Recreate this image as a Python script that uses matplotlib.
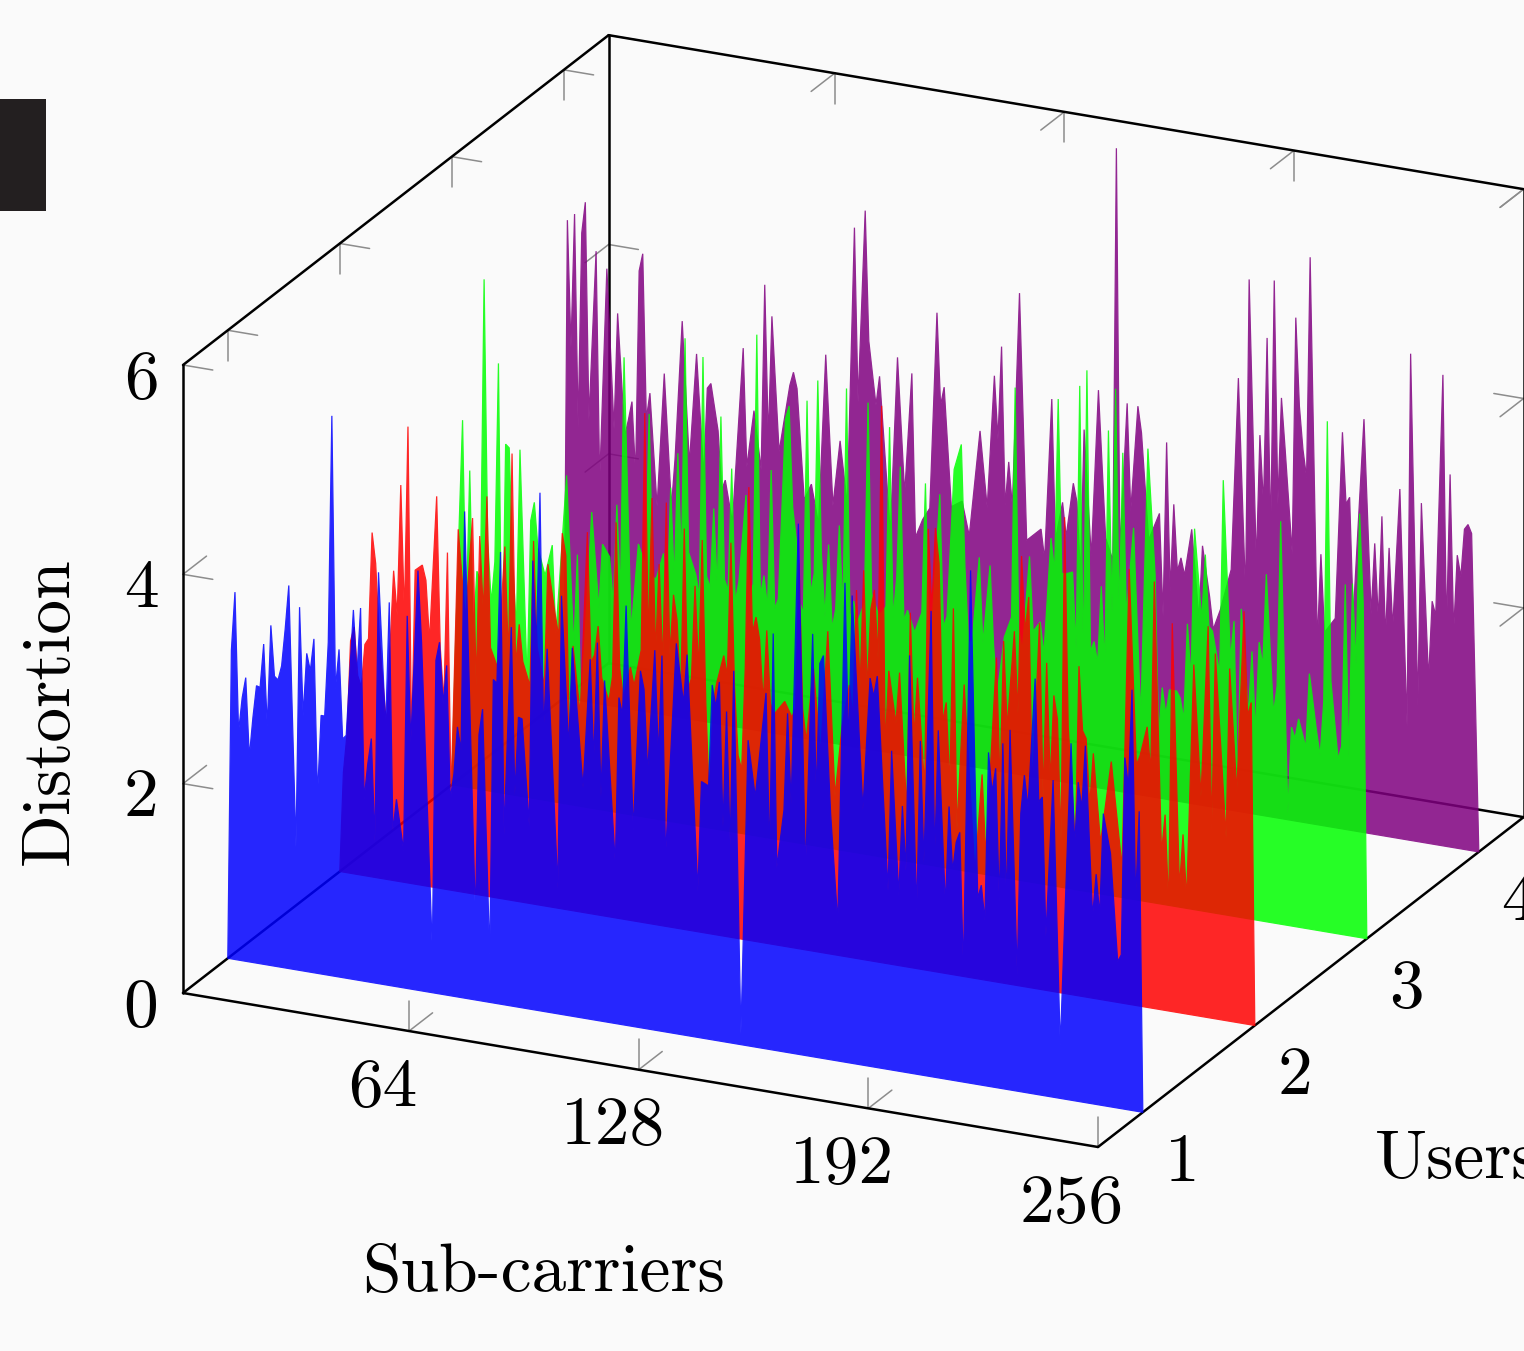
import matplotlib
matplotlib.use("Agg")
import matplotlib.pyplot as plt
from matplotlib.transforms import Affine2D
from matplotlib.patches import Rectangle

# (sub-carrier, distortion) vertices
blue_points = [(2,2.95),(3,3.51),(4,2.18),(5,2.51),(6,2.71),(7,1.96),(8,2.34),(9,2.65),(10,2.64),(11,3.06),(12,2.28),(13,3.25),(14,2.77),(15,2.74),(16,2.88),(17,3.24),(18,3.66),(20,1.17),(21,3.47),(22,2.44),(23,3.04),(24,2.88),(25,3.19),(26,1.70),(27,2.47),(28,2.47),(29,3.18),(30,5.35),(31,2.75),(32,3.13),(33,2.28),(34,2.32),(36,3.53),(37,2.92),(38,3.56),(39,1.74),(40,2.08),(41,2.33),(42,1.35),(43,3.93),(45,2.45),(46,3.66),(47,1.48),(48,1.79),(50,1.31),(51,3.56),(52,2.36),(54,4.01),(55,3.33),(58,0.40),(59,3.18),(60,3.36),(61,2.78),(62,3.15),(63,1.88),(64,2.12),(65,2.58),(66,2.36),(67,4.65),(70,0.80),(71,2.54),(72,2.79),(74,0.45),(75,3.09),(76,3.06),(77,4.32),(78,1.63),(80,3.62),(81,2.02),(82,2.77),(83,2.76),(85,1.75),(86,4.29),(87,3.48),(88,4.95),(89,2.66),(90,3.47),(93,1.20),(94,4.00),(96,2.56),(97,3.52),(100,2.20),(102,3.44),(103,2.48),(104,3.61),(105,2.14),(106,3.26),(109,1.52),(110,3.12),(111,2.96),(112,4.01),(114,1.88),(116,3.41),(117,3.24),(118,2.45),(120,3.63),(121,2.62),(122,3.59),(123,1.68),(126,3.73),(128,3.17),(129,3.64),(132,1.40),(133,2.45),(135,2.42),(136,3.39),(137,3.19),(138,3.43),(139,2.05),(140,3.16),(141,1.89),(142,3.56),(144,0.10),(146,2.92),(148,2.39),(151,3.40),(152,1.86),(153,3.98),(154,1.75),(156,2.31),(157,3.24),(158,2.38),(160,5.07),(162,1.76),(164,4.04),(165,2.49),(166,3.77),(167,3.85),(169,2.35),(171,1.32),(173,4.58),(174,3.01),(175,4.47),(178,2.44),(180,3.71),(181,3.54),(182,3.74),(185,1.71),(186,3.05),(188,1.68),(189,2.54),(190,1.93),(191,3.99),(193,1.56),(194,3.19),(195,2.03),(197,4.45),(198,2.10),(199,3.32),(201,1.66),(202,2.61),(203,2.00),(204,2.28),(205,2.38),(206,1.07),(208,4.90),(210,1.78),(211,1.91),(212,1.58),(213,3.19),(214,2.82),(215,3.05),(216,1.78),(217,3.30),(218,1.78),(219,3.44),(221,1.12),(222,2.66),(223,3.03),(224,2.73),(226,3.97),(227,2.80),(228,2.85),(229,1.53),(231,3.03),(233,0.50),(236,3.41),(237,2.44),(238,3.05),(239,2.81),(240,3.41),(242,1.79),(243,2.20),(244,1.82),(245,2.79),(247,2.42),(249,1.40),(250,1.47),(251,3.36),(252,3.09),(253,4.02),(254,2.02),(255,2.87)]

red_points = [(2,0.95),(3,1.32),(4,2.22),(5,2.36),(6,1.9),(7,1.8),(8,2.21),(9,2.27),(10,3.29),(11,3.00),(12,2.3),(14,1.48),(16,2.96),(17,2.54),(18,3.79),(19,2.55),(20,4.36),(21,1.37),(22,3.00),(24,3.06),(25,2.92),(26,2.35),(28,3.74),(29,2.30),(30,1.79),(31,3.22),(32,0.89),(34,3.46),(36,2.61),(38,3.59),(39,2.0),(40,3.43),(41,2.71),(42,3.82),(43,2.38),(45,2.2),(47,3.37),(48,2.3),(49,4.27),(50,2.25),(51,2.65),(52,2.3),(54,2.08),(55,3.47),(56,2.46),(58,2.1),(59,3.27),(61,2.81),(62,2.60),(63,3.59),(64,3.38),(65,1.59),(66,2.53),(68,1.89),(70,3.64),(71,2.4),(72,2.48),(73,2.76),(74,2.27),(76,2.06),(77,2.3),(78,3.78),(79,2.4),(80,2.12),(82,2.42),(83,2.25),(85,2.6),(86,4.87),(87,2.7),(88,4.07),(89,2.6),(90,3.45),(91,2.5),(92,4.05),(93,2.6),(94,3.18),(95,2.94),(96,2.21),(97,3.83),(98,2.3),(99,2.41),(100,3.30),(101,2.5),(102,3.75),(103,2.2),(104,1.27),(105,2.2),(106,2.4),(108,2.68),(109,2.5),(110,3.77),(111,2.4),(112,1.75),(113,1.62),(114,2.6),(115,4.33),(116,2.95),(117,3.10),(118,2.89),(119,2.3),(120,2.99),(121,2.3),(122,2.2),(125,2.34),(127,2.2),(128,2.3),(129,3.68),(130,2.3),(131,2.0),(133,2.7),(135,1.9),(137,3.08),(139,1.52),(141,2.2),(143,2.6),(144,2.3),(145,3.52),(146,2.6),(147,3.72),(148,2.6),(149,3.36),(150,3.55),(151,2.9),(152,5.32),(153,2.07),(154,2.80),(156,2.31),(157,2.80),(159,1.5),(160,3.39),(161,2.2),(162,2.78),(164,1.75),(165,4.22),(166,3.46),(167,4.24),(168,3.91),(169,2.4),(170,2.59),(171,1.8),(172,3.50),(173,1.4),(175,2.79),(178,1.01),(180,1.96),(181,1.2),(184,3.10),(185,1.9),(186,3.27),(187,2.45),(189,3.38),(190,2.6),(191,4.11),(192,3.4),(193,3.73),(194,1.9),(196,3.50),(197,1.85),(198,3.13),(199,2.0),(200,2.83),(201,2.61),(202,1.45),(203,4.55),(204,2.55),(206,1.45),(207,3.15),(208,2.54),(209,2.47),(210,1.85),(211,2.34),(213,1.5),(214,1.76),(216,2.29),(219,1.3),(221,4.16),(223,2.30),(224,2.39),(226,2.68),(227,2.25),(228,4.08),(230,1.5),(231,1.87),(232,1.0),(233,3.71),(235,1.2),(236,1.71),(237,1.1),(239,3.35),(241,2.1),(243,3.74),(244,1.8),(245,3.49),(248,1.75),(249,3.37),(251,2.2),(253,3.94),(254,2.95),(255,3.08)]

green_points = [(2,1.31),(3,2.44),(4,3.50),(5,1.60),(6,3.03),(7,1.5),(8,2.08),(9,2.0),(10,4.88),(11,2.4),(12,1.8),(13,2.2),(14,4.10),(15,1.0),(16,3.34),(17,3.31),(18,2.2),(19,1.6),(20,3.31),(22,1.1),(23,2.65),(24,2.83),(25,2.4),(27,2.15),(29,2.45),(30,1.6),(33,3.14),(35,1.5),(36,2.40),(37,0.9),(40,2.83),(42,1.92),(43,2.54),(45,2.43),(46,1.98),(47,2.94),(48,2.1),(49,4.36),(51,1.76),(53,2.6),(55,2.4),(56,3.86),(57,2.3),(58,2.3),(60,2.55),(61,2.0),(62,3.19),(63,2.3),(64,3.53),(65,2.5),(66,4.64),(67,2.6),(69,2.4),(70,2.2),(71,4.49),(72,2.4),(73,2.3),(74,3.06),(75,2.3),(76,3.95),(77,2.4),(78,2.3),(79,3.47),(80,2.2),(81,2.4),(83,3.24),(84,2.3),(85,2.4),(86,4.79),(87,2.3),(88,2.5),(89,2.2),(90,3.52),(91,2.2),(92,2.3),(94,4.03),(95,4.16),(96,3.2),(97,2.9),(98,2.3),(99,2.2),(100,4.24),(101,2.4),(102,2.6),(103,4.45),(104,2.8),(105,2.2),(106,2.90),(107,2.1),(108,2.3),(109,3.10),(110,2.3),(111,4.42),(112,2.2),(113,2.4),(114,2.2),(116,2.4),(117,4.32),(118,2.5),(119,2.4),(120,2.3),(122,2.4),(123,4.12),(124,2.3),(125,2.7),(126,3.76),(127,2.3),(128,2.4),(130,2.2),(132,2.4),(133,3.64),(134,2.2),(135,2.4),(137,3.56),(138,2.3),(139,2.4),(141,3.82),(143,4.07),(144,2.91),(145,2.2),(146,2.2),(148,3.02),(149,2.2),(151,2.96),(152,2.2),(153,1.75),(155,2.3),(157,2.5),(158,4.70),(159,2.4),(160,2.2),(162,3.11),(163,2.4),(165,2.5),(166,2.2),(168,3.32),(169,3.0),(170,4.66),(171,3.0),(172,3.0),(174,3.03),(175,2.3),(176,4.82),(177,2.2),(178,4.98),(179,2.3),(180,2.40),(181,2.2),(182,2.94),(183,2.2),(184,4.44),(185,2.7),(186,4.85),(187,2.7),(188,4.25),(189,2.7),(191,3.55),(193,1.75),(195,4.33),(197,3.14),(198,1.6),(199,2.07),(200,1.82),(201,2.06),(203,2.06),(204,2.0),(205,1.8),(206,2.72),(207,2.2),(208,3.64),(210,2.78),(211,3.41),(212,2.73),(213,2.69),(215,2.3),(216,4.15),(218,2.45),(219,2.82),(220,1.2),(221,2.95),(223,1.95),(224,2.56),(225,1.8),(226,2.66),(227,2.44),(228,3.32),(230,2.0),(231,2.27),(232,3.85),(234,1.07),(235,1.90),(236,1.8),(237,1.99),(239,1.73),(240,2.44),(242,1.9),(243,1.67),(244,2.2),(245,4.88),(246,2.4),(248,1.67),(249,1.8),(250,3.35),(251,1.69),(252,3.37),(253,2.6),(254,4.05),(255,3.2)]

purple_points = [(2,4.57),(3,3.36),(4,4.64),(5,2.61),(6,4.47),(7,4.77),(8,2.7),(10,4.32),(11,2.13),(13,4.17),(15,2.65),(16,3.76),(18,2.6),(19,2.76),(20,2.94),(21,2.25),(22,4.20),(23,4.37),(24,2.8),(25,3.05),(27,1.98),(29,3.26),(31,2.0),(32,2.46),(34,3.79),(36,2.44),(38,3.50),(40,2.35),(41,3.19),(42,3.24),(44,2.8),(45,2.24),(46,2.34),(48,1.95),(51,3.63),(52,2.5),(54,3.05),(56,2.5),(57,4.27),(58,2.8),(59,3.98),(61,2.7),(64,3.35),(65,3.48),(66,3.33),(68,2.28),(70,2.44),(72,2.07),(74,3.70),(76,2.27),(78,2.90),(80,2.3),(82,4.96),(83,3.3),(85,5.14),(86,3.9),(88,3.3),(89,3.58),(92,2.1),(94,3.79),(96,2.5),(98,3.66),(99,2.1),(101,2.28),(103,2.4),(105,4.28),(106,3.4),(107,3.58),(109,2.45),(112,2.52),(114,2.2),(117,3.22),(119,2.5),(121,3.77),(122,3.17),(123,4.06),(124,2.55),(125,2.97),(126,2.55),(128,4.6),(130,2.25),(134,2.38),(135,2.1),(137,3.64),(138,2.3),(140,2.67),(141,2.35),(143,2.87),(144,2.7),(145,2.0),(146,3.40),(148,2.2),(150,3.80),(152,2.4),(154,2.2),(155,6.14),(156,2.3),(158,3.72),(159,2.7),(161,3.71),(162,3.46),(164,2.45),(167,2.72),(168,1.75),(169,3.41),(170,2.0),(171,2.83),(172,2.2),(173,2.33),(174,2.17),(176,2.62),(178,1.78),(179,2.48),(181,2.0),(182,1.7),(184,1.9),(187,2.3),(189,4.14),(191,2.09),(192,5.10),(194,2.4),(195,3.63),(196,2.97),(197,4.57),(198,2.7),(199,5.13),(200,3.0),(201,4.02),(202,3.55),(204,2.55),(205,4.81),(206,3.97),(207,3.56),(208,3.3),(209,5.41),(211,1.75),(212,2.59),(213,1.85),(216,2.0),(218,3.79),(219,3.11),(220,3.18),(221,2.05),(224,3.95),(226,2.1),(227,2.78),(228,2.06),(229,3.05),(230,1.9),(231,2.76),(232,2.0),(234,3.34),(236,1.09),(237,4.65),(239,1.3),(240,3.24),(242,1.57),(243,2.32),(244,2.19),(246,4.50),(247,2.07),(248,3.56),(249,2.07),(250,2.8),(251,2.6),(252,3.06),(253,3.11),(254,3.03)]

users = [1, 2, 3, 4]
series = [(4, purple_points, "#800080"), (3, green_points, "#00ff00"),
          (2, red_points, "#ff0000"), (1, blue_points, "#0000ff")]
x_ticks = [64, 128, 192, 256]
z_ticks = [0, 2, 4, 6]
x_range = (1, 256)
y_range = (0.6, 4.4)
z_range = (0, 6)

W, H = 1524, 1351
plt.rcParams["font.family"] = ["cmr10", "DejaVu Serif"]
plt.rcParams["axes.formatter.use_mathtext"] = True
fig = plt.figure(figsize=(W / 100, H / 100), dpi=100, facecolor="#fafafa")
ax = fig.add_axes([0, 0, 1, 1])
ax.set_xlim(0, W)
ax.set_ylim(H, 0)
ax.axis("off")

# parallel projection of the 3D box on the page
ORG = (183.0, 993.0)
EX = (915.0 / 255, 154.0 / 255)
EY = (112.0, -86.8)
EZ = (0.0, -628.0 / 6)


def P(x, y, z):
    dx, dy = x - x_range[0], y - y_range[0]
    return (ORG[0] + dx * EX[0] + dy * EY[0] + z * EZ[0],
            ORG[1] + dx * EX[1] + dy * EY[1] + z * EZ[1])


def seg(a, b, **kw):
    pa, pb = P(*a), P(*b)
    ax.plot([pa[0], pb[0]], [pa[1], pb[1]], solid_capstyle="round", **kw)


def fade(img, dpi):
    out = img.copy()
    out[..., 3] *= 0.85
    return out, 0, 0


x0, x1 = x_range
y0, y1 = y_range
z0, z1 = z_range
box = dict(color="black", lw=1.8, zorder=1)
TICK = dict(color="#8c8c8c", lw=1.1, zorder=0.5)
tx, ty, tz = 8.3, 0.21, 0.29

for a, b in [((x0, y0, z0), (x1, y0, z0)), ((x0, y0, z0), (x0, y1, z0)),
             ((x1, y0, z0), (x1, y1, z0)), ((x0, y1, z0), (x1, y1, z0)),
             ((x0, y0, z0), (x0, y0, z1)), ((x0, y1, z0), (x0, y1, z1)),
             ((x1, y1, z0), (x1, y1, z1)), ((x0, y0, z1), (x0, y1, z1)),
             ((x0, y1, z1), (x1, y1, z1))]:
    seg(a, b, **box)

for xv in x_ticks:
    seg((xv, y0, z0), (xv, y0, z0 + tz), **TICK)
    seg((xv, y0, z0), (xv, y0 + ty, z0), **TICK)
    if xv != x1:
        seg((xv, y1, z1), (xv, y1, z1 - tz), **TICK)
    seg((xv, y1, z1), (xv, y1 - ty, z1), **TICK)
for u in users:
    seg((x0, u, z1), (x0, u, z1 - tz), **TICK)
    seg((x0, u, z1), (x0 + tx, u, z1), **TICK)
for zv in z_ticks[1:]:
    seg((x0, y0, zv), (x0 + tx, y0, zv), **TICK)
    seg((x1, y1, zv), (x1, y1 - ty, zv), **TICK)
    if zv != z1:
        seg((x0, y0, zv), (x0, y0 + ty, zv), **TICK)
        seg((x1, y1, zv), (x1 - tx, y1, zv), **TICK)
    seg((x0, y1, zv), (x0 + tx, y1, zv), **TICK)
    if zv != z1:
        seg((x0, y1, zv), (x0, y1 - ty, zv), **TICK)

for u, pts, col in series:
    ox, oy = P(x0, u, 0)
    tr = Affine2D.from_values(EX[0], EX[1], EZ[0], EZ[1],
                              ox - x0 * EX[0], oy - x0 * EX[1]) + ax.transData
    xs = [x0] + [p[0] for p in pts] + [x1]
    zs = [0] + [p[1] for p in pts] + [0]
    poly = ax.fill(xs, zs, facecolor=col, edgecolor=col, lw=0.9,
                   joinstyle="bevel", transform=tr, zorder=2 + (4 - u))[0]
    poly.set_agg_filter(fade)

FS = 50
for xv in x_ticks:
    px, py = P(xv, y0, z0)
    ax.text(px - 26, py + 57, str(xv), fontsize=FS, ha="center", va="center", zorder=10)
for u in users:
    px, py = P(x1, u, z0)
    ax.text(px + 40, py + 51, str(u), fontsize=FS, ha="center", va="center", zorder=10)
for zv in z_ticks:
    px, py = P(x0, y0, zv)
    ax.text(px - 42, py + 15, str(zv), fontsize=FS, ha="center", va="center", zorder=10)

ax.text(544, 1273, "Sub-carriers", fontsize=FS, ha="center", va="center", zorder=10)
ax.text(1375, 1160, "Users", fontsize=FS, ha="left", va="center", zorder=10)
ax.text(50, 711, "Distortion", fontsize=FS, ha="center", va="center", rotation=90, zorder=10)

ax.add_patch(Rectangle((0, 99), 46, 112, facecolor="#231f20", edgecolor="none", zorder=10))

fig.savefig("out.png", dpi=100, facecolor=fig.get_facecolor())
